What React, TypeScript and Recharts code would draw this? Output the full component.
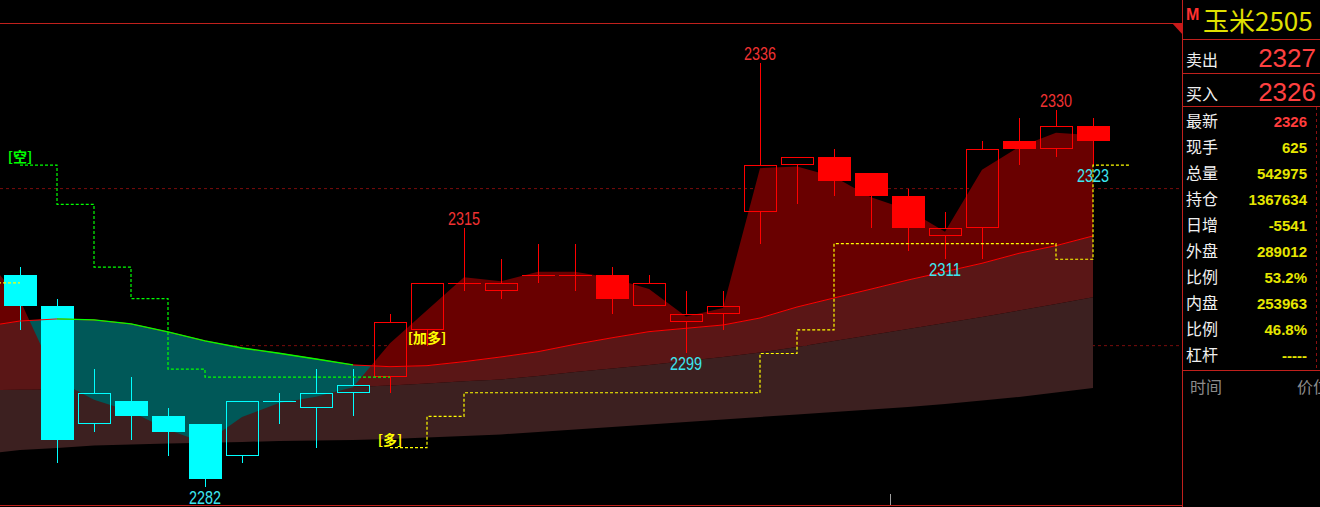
import React from 'react';
import { ComposedChart, Area, Line, Bar, Scatter, XAxis, YAxis, CartesianGrid } from 'recharts';

// ---------- data ----------
const candleIndex = [0, 1, 2, 3, 4, 5, 6, 7, 8, 9, 10, 11, 12, 13, 14, 15, 16, 17, 18, 19, 20, 21, 22, 23, 24, 25, 26, 27, 28, 29];
const opens = [2309, 2305, 2290, 2293, 2291, 2290, 2286, 2293, 2292, 2294, 2296, 2302, 2308, 2307, 2309, 2309, 2309, 2305, 2303, 2304, 2317, 2323, 2324, 2322, 2319, 2314, 2315, 2326, 2325, 2328];
const closes = [2305, 2288, 2294, 2291, 2289, 2283, 2293, 2293, 2294, 2295, 2303, 2308, 2308, 2308, 2309, 2309, 2306, 2308, 2304, 2305, 2323, 2324, 2321, 2319, 2315, 2315, 2325, 2325, 2328, 2326];
const highs = [2310, 2306, 2297, 2296, 2292, 2290, 2293, 2294, 2297, 2297, 2304, 2308, 2315, 2311, 2313, 2313, 2310, 2309, 2307, 2307, 2336, 2324, 2325, 2322, 2320, 2317, 2326, 2329, 2330, 2329];
const lows = [2302, 2285, 2289, 2288, 2286, 2282, 2285, 2290, 2287, 2291, 2294, 2300, 2307, 2306, 2308, 2307, 2304, 2305, 2299, 2302, 2313, 2318, 2319, 2315, 2312, 2311, 2311, 2323, 2324, 2323];

// indicator lines, from the bar before the screen (-1) to the last bar (29)
const lineIndex = [-1, 0, 1, 2, 3, 4, 5, 6, 7, 8, 9, 10, 11, 12, 13, 14, 15, 16, 17, 18, 19, 20, 21, 22, 23, 24, 25, 26, 27, 28, 29];
const fastLine = [2311.7, 2305.8, 2295.6, 2293.1, 2291.6, 2289.3, 2287.6, 2290.9, 2292.7, 2293.5, 2294.7, 2300.3, 2304.5, 2308.7, 2308.2, 2309.4, 2309.4, 2308.6, 2307.2, 2303.7, 2304.8, 2322.6, 2322.8, 2321.5, 2318.9, 2317.3, 2314.5, 2322.4, 2325.3, 2327.1, 2326.8];
const midLine = [2302.4, 2303.14, 2303.4, 2303.27, 2302.76, 2301.74, 2300.6, 2299.7, 2299.03, 2298.3, 2297.54, 2297.32, 2297.45, 2297.96, 2298.56, 2299.23, 2300.17, 2301.0, 2301.78, 2302.21, 2302.63, 2303.52, 2304.92, 2306.07, 2307.2, 2308.36, 2309.42, 2310.49, 2311.76, 2312.73, 2313.97];
const upperBand = [2294.32, 2294.37, 2294.42, 2294.47, 2294.52, 2294.57, 2294.62, 2294.66, 2294.7, 2294.74, 2294.76, 2294.93, 2295.18, 2295.48, 2295.69, 2296.14, 2296.65, 2297.09, 2297.54, 2298.05, 2298.56, 2299.13, 2299.83, 2300.6, 2301.36, 2302.12, 2302.89, 2303.65, 2304.48, 2305.31, 2306.16];
const lowerBand = [2286.2, 2286.71, 2286.97, 2287.29, 2287.41, 2287.54, 2287.63, 2287.73, 2287.86, 2287.92, 2287.99, 2288.11, 2288.31, 2288.5, 2288.69, 2289.01, 2289.33, 2289.64, 2289.96, 2290.28, 2290.6, 2290.92, 2291.23, 2291.55, 2291.87, 2292.19, 2292.57, 2293.02, 2293.46, 2294.04, 2294.61];

// stop lines, bar -1 .. 30
const stopIndex = [-1, 0, 1, 2, 3, 4, 5, 6, 7, 8, 9, 10, 11, 12, 13, 14, 15, 16, 17, 18, 19, 20, 21, 22, 23, 24, 25, 26, 27, 28, 29, 30];
const shortStop = [null, 2323, 2318, 2310, 2306, 2297, 2296, 2296, 2296, 2296, 2296, 2296, null, null, null, null, null, null, null, null, null, null, null, null, null, null, null, null, null, null, null, null];
const longStop = [2308, 2308, null, null, null, null, null, null, null, null, null, 2287, 2291, 2294, 2294, 2294, 2294, 2294, 2294, 2294, 2294, 2299, 2302, 2313, 2313, 2313, 2313, 2313, 2313, 2311, 2323, 2323];

const highMarks = [{ i: 12, v: 2315 }, { i: 20, v: 2336 }, { i: 28, v: 2330 }];
const lowMarks = [{ i: 5, v: 2282 }, { i: 18, v: 2299 }, { i: 25, v: 2311 }, { i: 29, v: 2323 }];
const signals = [
  { i: 0, v: 2323, text: '[空]', side: 'short' },
  { i: 10, v: 2287, text: '[多]', side: 'long' },
  { i: 11, v: 2300, text: '[加多]', side: 'long' },
];
const gridLevels = [2300, 2320];

const symbolName = '玉米2505';
const askLabel = '卖出';
const askPrice = '2327';
const bidLabel = '买入';
const bidPrice = '2326';
const quoteLabels = ['最新', '现手', '总量', '持仓', '日增', '外盘', '比例', '内盘', '比例', '杠杆'];
const quoteValues = ['2326', '625', '542975', '1367634', '-5541', '289012', '53.2%', '253963', '46.8%', '-----'];
const tableHeaders = ['时间', '价位'];

// ---------- derived tables ----------
const sideAt = (i: number) => {
  let s = 'short';
  signals.forEach((g) => {
    if (g.i <= i) s = g.side;
  });
  return s;
};

const candles = candleIndex.map((i) => ({
  i,
  o: opens[i],
  c: closes[i],
  h: highs[i],
  l: lows[i],
  range: [lows[i], highs[i]],
  side: sideAt(i),
}));

const lineRows = lineIndex.map((i, k) => ({
  i,
  F: fastLine[k],
  M: midLine[k],
  U: upperBand[k],
  D: lowerBand[k],
}));

const fillRows: any[] = [];
lineRows.forEach((r, k) => {
  if (k > 0) {
    const p = lineRows[k - 1];
    const d0 = p.F - p.M;
    const d1 = r.F - r.M;
    if (d0 * d1 < 0) {
      const t = d0 / (d0 - d1);
      const lerp = (a: number, b: number) => a + (b - a) * t;
      fillRows.push({ i: lerp(p.i, r.i), F: lerp(p.F, r.F), M: lerp(p.M, r.M), U: lerp(p.U, r.U), D: lerp(p.D, r.D) });
    }
  }
  fillRows.push(r);
});

const stopRows = stopIndex.map((i, k) => ({ i, s: shortStop[k], l: longStop[k] }));

// ---------- styles ----------
const RED = '#ff0000';
const CYAN = '#00ffff';
const FRAME = '#c0201c';
const NUM_FONT = "'Liberation Sans', Arial, sans-serif";
const CJK_FONT = "'Noto Sans CJK SC', 'Noto Sans', sans-serif";

const CandleShape = (props: any) => {
  const { x, y, width, height, payload } = props;
  if (!payload || x == null || y == null) return null;
  const { o, c, h, l, side } = payload;
  const k = h === l ? 0 : height / (h - l);
  const Y = (p: number) => y + (h - p) * k;
  const color = side === 'long' ? RED : CYAN;
  const cx = Math.round(x + width / 2);
  const left = cx - 16;
  const bw = 33;
  const top = Math.round(Y(Math.max(o, c)));
  const bot = Math.round(Y(Math.min(o, c)));
  const hy = Math.round(Y(h));
  const ly = Math.round(Y(l));
  const wx = cx + 0.5;
  const parts: any[] = [];
  if (o === c) {
    parts.push(<line key="w" x1={wx} x2={wx} y1={hy} y2={ly} stroke={color} />);
    parts.push(<line key="d" x1={left} x2={left + bw} y1={top + 0.5} y2={top + 0.5} stroke={color} />);
  } else {
    if (hy < top) parts.push(<line key="u" x1={wx} x2={wx} y1={hy} y2={top} stroke={color} />);
    if (ly > bot) parts.push(<line key="b" x1={wx} x2={wx} y1={bot} y2={ly} stroke={color} />);
    if (c < o) {
      parts.push(<rect key="r" x={left} y={top} width={bw} height={Math.max(1, bot - top)} fill={color} />);
    } else {
      parts.push(
        <rect key="r" x={left + 0.5} y={top + 0.5} width={bw - 1} height={Math.max(1, bot - top - 1)} fill="none" stroke={color} />
      );
    }
  }
  return <g shapeRendering="crispEdges">{parts}</g>;
};

const HighLabel = (props: any) => {
  const s = String(props.payload.v);
  return (
    <text x={props.cx} y={props.cy - 3} textAnchor="middle" fill="#f03232" fontSize={18} fontFamily={NUM_FONT} textLength={s.length * 8} lengthAdjust="spacingAndGlyphs">
      {s}
    </text>
  );
};

const LowLabel = (props: any) => {
  const s = String(props.payload.v);
  return (
    <text x={props.cx} y={props.cy + 17} textAnchor="middle" fill="#3ce6f0" fontSize={18} fontFamily={NUM_FONT} textLength={s.length * 8} lengthAdjust="spacingAndGlyphs">
      {s}
    </text>
  );
};

const SignalLabel = (props: any) => (
  <text
    x={props.cx}
    y={props.cy - 3}
    textAnchor="middle"
    fill={props.payload.side === 'long' ? '#ffff00' : '#00ff00'}
    fontSize={14}
    fontWeight="bold"
    fontFamily={CJK_FONT}
  >
    {props.payload.text}
  </text>
);

const X_DOMAIN: [number, number] = [-20 / 37, 1163 / 37];
const Y_DOMAIN: [number, number] = [2279.45, 2344.02];

export default function App() {
  const rowY = quoteLabels.map((_, k) => 121 + k * 26);
  return (
    <div style={{ position: 'fixed', left: 0, top: 0, width: 1320, height: 507, background: '#000', overflow: 'hidden' }}>
      <div style={{ position: 'absolute', left: 0, top: 0 }}>
        <ComposedChart width={1183} height={507} data={candles} margin={{ top: 0, right: 0, bottom: 0, left: 0 }}>
          <XAxis xAxisId="c" type="category" dataKey="i" padding={{ left: 1.5, right: 71.5 }} hide />
          <XAxis xAxisId="l" type="number" dataKey="i" domain={X_DOMAIN} allowDataOverflow hide />
          <YAxis type="number" domain={Y_DOMAIN} ticks={gridLevels} allowDataOverflow hide />
          <CartesianGrid
            xAxisId="l"
            vertical={false}
            horizontalValues={gridLevels}
            stroke="#7a0c0c"
            strokeDasharray="3 3"
          />
          <Area xAxisId="l" data={fillRows} type="linear" dataKey={(r: any) => [r.D, r.U]} fill="#3c2020" fillOpacity={1} stroke="none" isAnimationActive={false} />
          <Area xAxisId="l" data={fillRows} type="linear" dataKey={(r: any) => [r.U, r.M]} fill="#5a1616" fillOpacity={1} stroke="none" isAnimationActive={false} />
          <Area xAxisId="l" data={fillRows} type="linear" dataKey={(r: any) => [r.M, Math.max(r.F, r.M)]} fill="#690000" fillOpacity={1} stroke="none" isAnimationActive={false} />
          <Area xAxisId="l" data={fillRows} type="linear" dataKey={(r: any) => [Math.min(r.F, r.M), r.M]} fill="#005858" fillOpacity={1} stroke="none" isAnimationActive={false} />
          <Bar xAxisId="c" dataKey="range" barSize={33} shape={CandleShape} isAnimationActive={false} />
          <Line xAxisId="l" data={lineRows} type="linear" dataKey="M" stroke={RED} strokeWidth={1} dot={false} activeDot={false} isAnimationActive={false} />
          <Line
            xAxisId="l"
            data={lineRows}
            type="linear"
            dataKey={(r: any) => (r.F < r.M ? r.M : null)}
            stroke="#00ff00"
            strokeWidth={1.3}
            dot={false}
            activeDot={false}
            isAnimationActive={false}
          />
          <Line xAxisId="l" data={stopRows} type="stepAfter" dataKey="s" stroke="#00ff00" strokeDasharray="3 2" strokeWidth={1.2} dot={false} activeDot={false} isAnimationActive={false} />
          <Line xAxisId="l" data={stopRows} type="stepAfter" dataKey="l" stroke="#ffff00" strokeDasharray="3 2" strokeWidth={1.2} dot={false} activeDot={false} isAnimationActive={false} />
          <Scatter xAxisId="l" data={highMarks} dataKey="v" shape={HighLabel} isAnimationActive={false} />
          <Scatter xAxisId="l" data={lowMarks} dataKey="v" shape={LowLabel} isAnimationActive={false} />
          <Scatter xAxisId="l" data={signals} dataKey="v" shape={SignalLabel} isAnimationActive={false} />
        </ComposedChart>
      </div>
      <svg style={{ position: 'absolute', left: 0, top: 0 }} width={1320} height={507}>
        <g shapeRendering="crispEdges">
          <line x1={0} y1={23.5} x2={1183} y2={23.5} stroke={FRAME} />
          <line x1={0} y1={505.5} x2={1183} y2={505.5} stroke={FRAME} />
          <line x1={1182.5} y1={0} x2={1182.5} y2={507} stroke={FRAME} />
          <line x1={1183} y1={39.5} x2={1320} y2={39.5} stroke={FRAME} />
          <line x1={1183} y1={73.5} x2={1320} y2={73.5} stroke={FRAME} />
          <line x1={1183} y1={106.5} x2={1320} y2={106.5} stroke={FRAME} />
          <line x1={1183} y1={370.5} x2={1320} y2={370.5} stroke={FRAME} />
          <line x1={1316.5} y1={107} x2={1316.5} y2={370} stroke="#8a1010" strokeDasharray="3 3" />
          <line x1={890.5} y1={494} x2={890.5} y2={505} stroke="#a0a0a0" />
        </g>
        <polygon points="1172,23 1183,23 1183,35" fill="#c81a1a" />
        <text x={1186} y={20} fill="#ff3030" fontSize={16} fontWeight="bold" fontFamily={NUM_FONT}>M</text>
        <text x={1203} y={31} fill="#e0e000" fontSize={26} fontFamily={CJK_FONT}>{symbolName}</text>
        <text x={1186} y={66} fill="#f0f0f0" fontSize={16} fontFamily={CJK_FONT}>{askLabel}</text>
        <text x={1316} y={67} textAnchor="end" fill="#ff4040" fontSize={26} fontFamily={NUM_FONT}>{askPrice}</text>
        <text x={1186} y={100} fill="#f0f0f0" fontSize={16} fontFamily={CJK_FONT}>{bidLabel}</text>
        <text x={1316} y={101} textAnchor="end" fill="#ff4040" fontSize={26} fontFamily={NUM_FONT}>{bidPrice}</text>
        {quoteLabels.map((lab, k) => (
          <text key={'l' + k} x={1186} y={rowY[k] + 6} fill="#f0f0f0" fontSize={16} fontFamily={CJK_FONT}>{lab}</text>
        ))}
        {quoteValues.map((val, k) => (
          <text
            key={'v' + k}
            x={1307}
            y={rowY[k] + 5.5}
            textAnchor="end"
            fill={k === 0 ? '#ff3c3c' : '#e6e600'}
            fontSize={15}
            fontWeight="bold"
            fontFamily={NUM_FONT}
          >
            {val}
          </text>
        ))}
        <text x={1190} y={393} fill="#8c8c8c" fontSize={16} fontFamily={CJK_FONT}>{tableHeaders[0]}</text>
        <text x={1297} y={393} fill="#8c8c8c" fontSize={16} fontFamily={CJK_FONT}>{tableHeaders[1]}</text>
      </svg>
    </div>
  );
}
